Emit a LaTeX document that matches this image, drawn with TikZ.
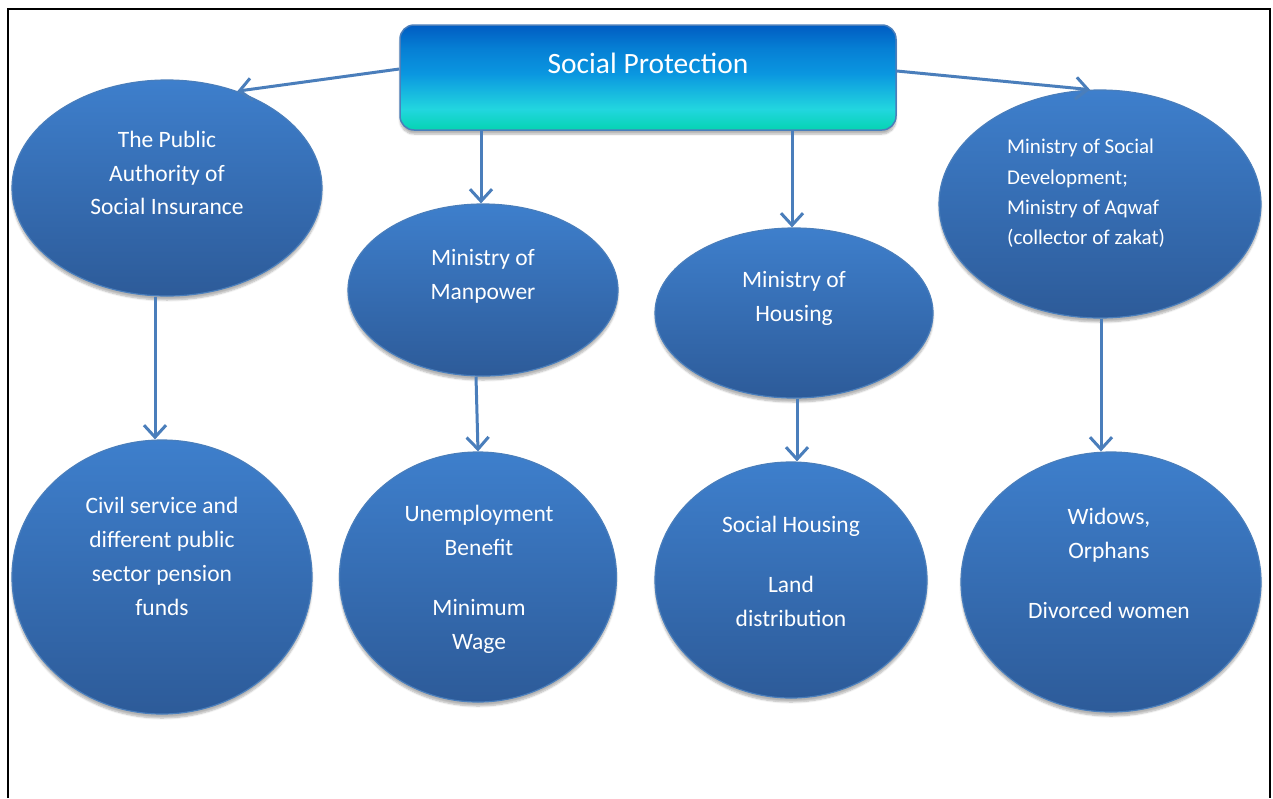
\documentclass[tikz,border=0pt]{standalone}
\usepackage{fontspec}
\setmainfont{Carlito}
\usetikzlibrary{arrows.meta,shapes.geometric,shadows.blur,calc}

\definecolor{edgeblue}{HTML}{4A7EBB}
\definecolor{elltop}{HTML}{3E7FCC}
\definecolor{ellbot}{HTML}{2D5B99}
\definecolor{boxtop}{HTML}{005CC2}
\definecolor{boxmid}{HTML}{0A96E0}
\definecolor{boxcyan}{HTML}{22D6DF}
\definecolor{boxbot}{HTML}{05D4B2}

% vertical gradient of the title box (25bp..75bp spans the box)
\pgfdeclareverticalshading{titleshade}{100bp}{%
  color(0bp)=(boxbot); color(25bp)=(boxbot); color(35bp)=(boxcyan);
  color(52bp)=(boxmid); color(64bp)=(boxmid!60!boxtop); color(75bp)=(boxtop);
  color(100bp)=(boxtop)}

\tikzset{
  softshadow/.style={blur shadow={shadow xshift=0pt, shadow yshift=-4pt,
      shadow blur steps=6, shadow opacity=30}},
  ell/.style={ellipse, draw=edgeblue, line width=1.2pt, top color=elltop,
      bottom color=ellbot, inner sep=0pt, softshadow},
  titlebox/.style={rectangle, rounded corners=14pt, draw=edgeblue,
      line width=1.5pt, shading=titleshade, inner sep=0pt, softshadow},
  lbl/.style={text=white, align=center, inner sep=0pt,
      font=\fontsize{23.5}{34}\selectfont},
  arr/.style={draw=edgeblue, line width=3pt,
      -{Straight Barb[length=12pt,width=22pt]}},
}

\begin{document}
\begin{tikzpicture}[x=1pt, y=-1pt]
  \useasboundingbox (0,0) rectangle (1273,798);

  % open frame round the chart
  \draw[line width=2.5pt] (8,798) -- (8,9) -- (1270,9) -- (1270,798);

  % title
  \node[titlebox, minimum width=496pt, minimum height=105pt] (top) at (648,77.5) {};
  \node[text=white, inner sep=0pt, font=\fontsize{29.5}{34}\selectfont] (toptxt) at (648,63) {Social Protection};

  % agencies
  \node[ell, minimum width=310pt, minimum height=216pt] (e1) at (167,188) {};
  \node[ell, minimum width=270pt, minimum height=172pt] (e2) at (483,290) {};
  \node[ell, minimum width=278pt, minimum height=170pt] (e3) at (794,313) {};
  \node[ell, minimum width=322pt, minimum height=228pt] (e4) at (1100,204) {};

  % programmes
  \node[ell, minimum width=300pt, minimum height=274pt] (b1) at (162,577) {};
  \node[ell, minimum width=277pt, minimum height=250pt] (b2) at (478,577) {};
  \node[ell, minimum width=272pt, minimum height=236pt] (b3) at (791,580) {};
  \node[ell, minimum width=300pt, minimum height=260pt] (b4) at (1111,582) {};

  % labels
  \node[lbl, font=\fontsize{23.5}{33.5}\selectfont] (t1) at (167,173) {The Public\\Authority of\\Social Insurance};
  \node[lbl] (t2) at (483,276) {Ministry of\\Manpower};
  \node[lbl] (t3) at (794,298) {Ministry of\\Housing};
  \node[lbl, align=left, anchor=west, font=\fontsize{21}{30.3}\selectfont] (t4) at (1007,193.5)
    {Ministry of Social\\Development;\\Ministry of Aqwaf\\(collector of zakat)};
  \node[lbl] (t5) at (162,556) {Civil service and\\different public\\sector pension\\funds};
  \node[lbl] (t6) at (479,579) {Unemployment\\Benefit\\[26pt]Minimum\\Wage};
  \node[lbl] (t7) at (791,571) {Social Housing\\[26pt]Land\\distribution};
  \node[lbl] (t8) at (1109,563) {Widows,\\Orphans\\[26pt]Divorced women};

  % connectors
  \draw[arr] ([yshift=8.5pt]top.west) -- (e1.54);
  \draw[arr] ([yshift=6.5pt]top.east) -- (e4.95);
  \draw[arr] ([xshift=-2pt]top.south -| e2.north) -- ([xshift=-2pt]e2.north);
  \draw[arr] ([xshift=-2pt]top.south -| e3.north) -- ([xshift=-2pt]e3.north);
  \draw[arr] ([xshift=-12pt]e1.south) -- ([xshift=-7pt]b1.north);
  \draw[arr] ([xshift=-7pt]e2.south) -- (b2.north);
  \draw[arr] ([xshift=3pt]e3.south) -- ([xshift=6pt]b3.north);
  \draw[arr] ([xshift=1pt]e4.south) -- ([xshift=-10pt]b4.north);
\end{tikzpicture}
\end{document}
